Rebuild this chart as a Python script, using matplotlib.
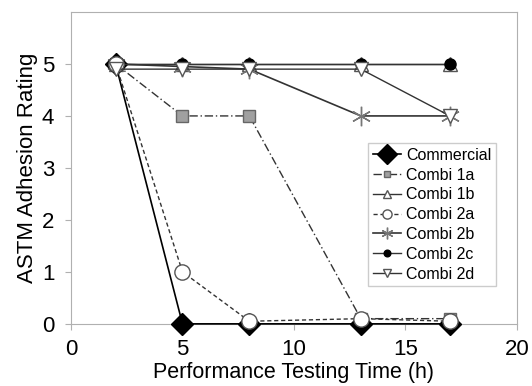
import matplotlib
matplotlib.use("Agg")
import matplotlib.pyplot as plt

times = [2, 5, 8, 13, 17]
commercial = [5, 0, 0, 0, 0]
combi_1a = [5, 4, 4, 0.1, 0.1]
combi_1b = [5, 5, 5, 5, 5]
combi_2a = [5, 1, 0.05, 0.1, 0.05]
combi_2b = [5, 4.95, 4.9, 4, 4]
combi_2c = [5, 5, 5, 5, 5]
combi_2d = [4.9, 4.9, 4.9, 4.9, 4]

plt.rcParams['font.family'] = ['Liberation Sans', 'DejaVu Sans']
fig = plt.figure(figsize=(5.32, 3.86), dpi=100)
ax = fig.add_axes([0.1335, 0.161, 0.838, 0.808])

lc = '#333333'
kw = dict(clip_on=False)
ax.plot(times, commercial, '-', color='black', lw=1.2, marker='D', ms=11,
        mfc='black', mec='black', label='Commercial', zorder=5, **kw)
ax.plot(times, combi_1a, linestyle=(0, (6, 2, 1, 2)), color=lc, lw=1.0, marker='s', ms=8,
        mfc='#a0a0a0', mec='#666666', label='Combi 1a', zorder=4, **kw)
ax.plot(times, combi_1b, '-', color=lc, lw=1.0, marker='^', ms=10,
        mfc='white', mec='#555555', label='Combi 1b', zorder=3, **kw)
ax.plot(times, combi_2a, linestyle=(0, (3, 2)), color=lc, lw=1.0, marker='o', ms=11,
        mfc='white', mec='#555555', label='Combi 2a', zorder=6, **kw)
ax.plot(times, combi_2b, '-', color=lc, lw=1.2, marker=(6, 2, 0), ms=14,
        mec='#777777', mew=1.0, label='Combi 2b', zorder=4, **kw)
ax.plot(times, combi_2c, '-', color=lc, lw=1.0, marker='o', ms=8,
        mfc='black', mec='black', label='Combi 2c', zorder=5, **kw)
ax.plot(times, combi_2d, '-', color=lc, lw=1.0, marker='v', ms=10,
        mfc='white', mec='#555555', label='Combi 2d', zorder=6, **kw)

ax.set_xlim(0, 20)
ax.set_ylim(0, 6)
ax.set_xticks([0, 5, 10, 15, 20])
ax.set_yticks([0, 1, 2, 3, 4, 5])
for s in ax.spines.values():
    s.set_color('#b0b0b0')
ax.tick_params(axis='y', length=4, color='#b0b0b0', labelsize=16, pad=8)
ax.tick_params(axis='x', length=4, color='#b0b0b0', labelsize=16, pad=7)
ax.set_xlabel('Performance Testing Time (h)', fontsize=15.5, labelpad=1)
ax.set_ylabel('ASTM Adhesion Rating', fontsize=16, labelpad=3)

leg = ax.legend(loc='upper left', bbox_to_anchor=(0.666, 0.58), fontsize=11.5,
                frameon=True, fancybox=False, handlelength=1.8, handletextpad=0.3,
                borderpad=0.3, labelspacing=0.3, markerscale=0.6, borderaxespad=0)
leg.get_frame().set_edgecolor('#c0c0c0')
leg.get_frame().set_linewidth(1.0)
leg.legend_handles[0].set_markersize(10)

fig.savefig('out.png', dpi=100)
